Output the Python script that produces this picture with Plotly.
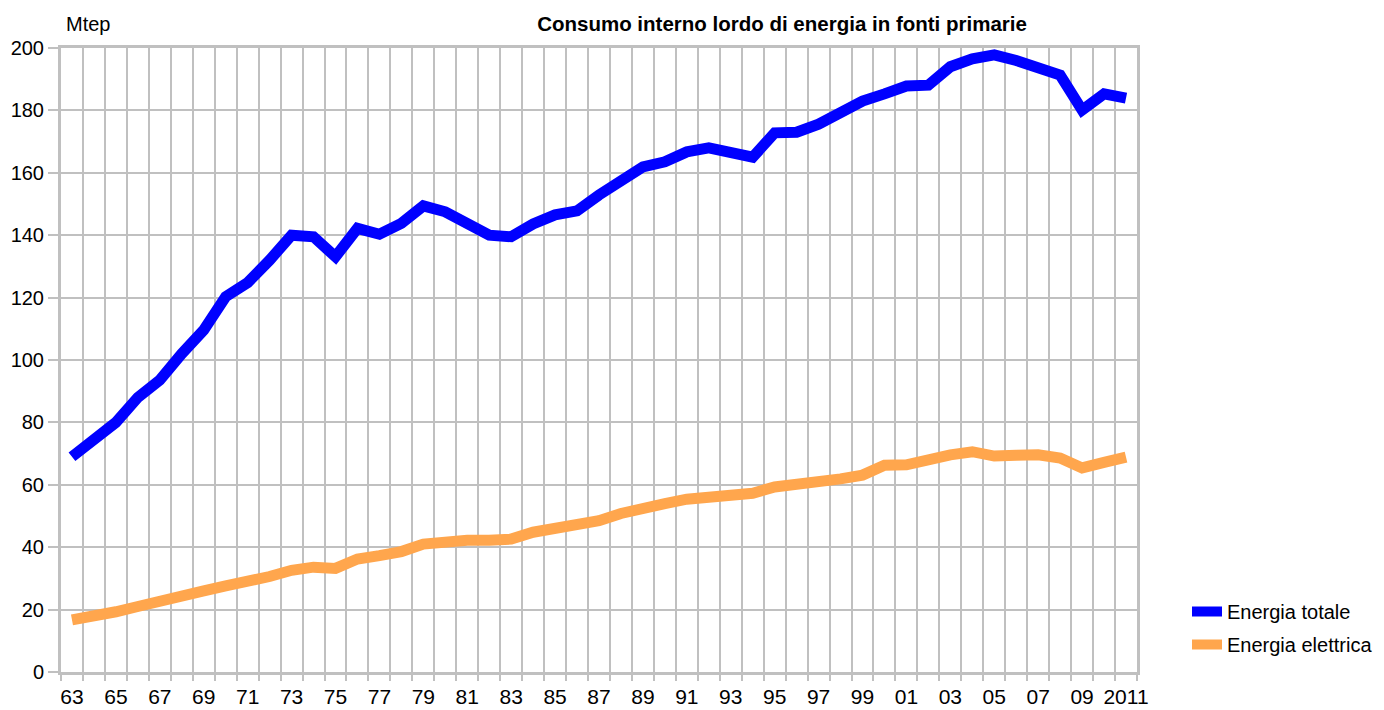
import plotly.graph_objects as go

years = list(range(1963, 2012))

energia_totale = [
    69.0, 74.0, 80.0, 88.0, 93.6, 102.0, 109.6, 120.3, 124.8, 132.0,
    140.0, 139.5, 133.1, 142.2, 140.3, 143.8, 149.4, 147.5, 144.0, 140.0,
    139.5, 143.6, 146.5, 147.8, 152.9, 157.4, 161.9, 163.5, 166.7, 168.0,
    166.3, 165.0, 172.8, 173.0, 175.6, 179.5, 183.0, 185.3, 187.8, 188.1,
    194.0, 196.5, 197.8, 196.0, 194.0, 191.3, 180.1, 185.3, 183.9,
]

energia_elettrica = [
    16.7, 17.8, 19.3, 21.0, 22.9, 24.5, 26.0, 27.6, 28.7, 30.6,
    32.6, 33.6, 33.2, 36.2, 37.3, 38.6, 41.0, 42.0, 42.2, 42.2,
    42.6, 44.8, 46.0, 46.6, 48.5, 50.8, 52.8, 54.0, 55.4, 56.0,
    56.0, 57.3, 59.3, 60.0, 61.2, 61.9, 63.1, 66.3, 66.4, 68.3,
    69.6, 70.6, 69.2, 69.5, 69.6, 68.6, 65.4, 67.2, 68.9,
]

tick_years = list(range(1963, 2012, 2))
tick_labels = [str(y)[2:] if y < 2011 else "2011" for y in tick_years]

series_names = ["Energia totale", "Energia elettrica"]
series_colors = ["#0000ff", "#ffa64d"]

FONT = "Liberation Sans, Arial, sans-serif"
GRID = "#c0c0c0"

fig = go.Figure()
for i, (name, vals, col) in enumerate(zip(series_names, [energia_totale, energia_elettrica], series_colors)):
    fig.add_trace(go.Scatter(
        x=years, y=vals, mode="lines", name=name, legendgroup=f"g{i}",
        line=dict(color=col, width=11),
    ))

fig.update_layout(
    width=1384, height=710,
    paper_bgcolor="white", plot_bgcolor="white",
    margin=dict(l=61, r=247, t=48, b=38, autoexpand=False),
    font=dict(family=FONT, size=20, color="black"),
    title=dict(
        text="<b>Consumo interno lordo di energia in fonti primarie</b>",
        x=782 / 1384, xanchor="center", xref="container",
        y=1 - 24 / 710, yanchor="middle", yref="container",
        font=dict(family=FONT, size=20.5, color="black"),
    ),
    showlegend=True,
    legend=dict(
        xref="container", yref="container",
        x=1187 / 1384, xanchor="left", y=1 - 592 / 710, yanchor="top",
        font=dict(family=FONT, size=20, color="black"),
        bgcolor="rgba(0,0,0,0)", traceorder="grouped", tracegroupgap=4,
    ),
    annotations=[dict(
        text="Mtep", xref="paper", yref="paper",
        x=(64 - 61) / 1076, xanchor="left",
        y=1 + 24 / 624, yanchor="middle",
        showarrow=False, font=dict(family=FONT, size=20, color="black"),
    )],
)

fig.update_xaxes(
    range=[1962.5, 2011.5], automargin=False,
    tickmode="array", tickvals=tick_years, ticktext=tick_labels,
    showgrid=False, ticks="outside", ticklen=4, tickcolor="rgba(0,0,0,0)",
    showline=True, linecolor=GRID, linewidth=3, mirror=True,
    minor=dict(tick0=1962.5, dtick=1, showgrid=True, gridcolor=GRID, gridwidth=2,
               ticks="outside", ticklen=6, tickcolor=GRID, tickwidth=2),
    zeroline=False,
    tickfont=dict(family=FONT, size=21),
)
fig.update_yaxes(
    range=[0, 200], dtick=20, tick0=0, automargin=False,
    showgrid=True, gridcolor=GRID, gridwidth=2,
    ticks="outside", ticklen=10, tickcolor=GRID, tickwidth=2,
    showline=True, linecolor=GRID, linewidth=3, mirror=True,
    zeroline=False,
    tickfont=dict(family=FONT, size=20),
)

fig.write_html("out.html", config={"displayModeBar": False},
               post_script="document.body.style.margin='0';")
